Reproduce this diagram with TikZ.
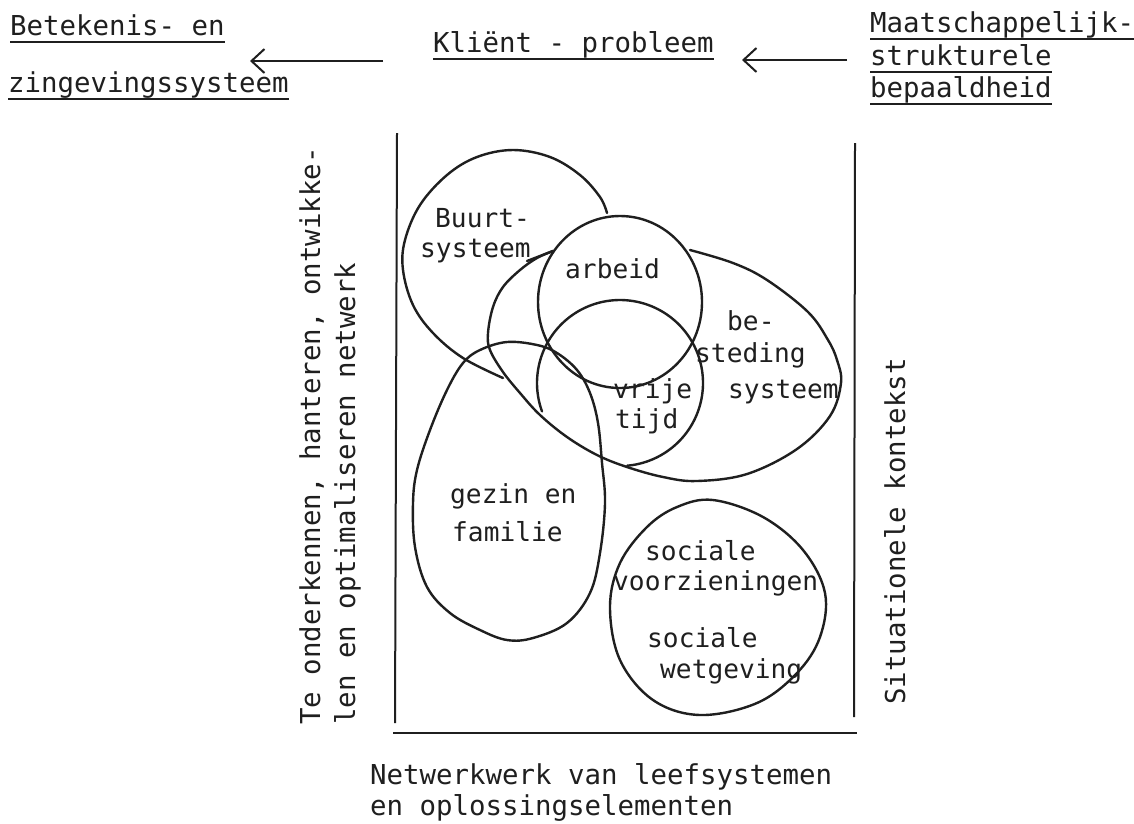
\documentclass[tikz,border=0pt]{standalone}
\usepackage{fontspec}
\newfontfamily\tw{DejaVu Sans Mono}
\usetikzlibrary{arrows.meta}
\newcommand\uln[1]{\setbox0=\hbox{#1}\rlap{\rule[-7.5pt]{\wd0}{2pt}}\box0}
\begin{document}
\begin{tikzpicture}[x=1pt,y=-1pt,
  ink/.style={draw=black!88, line width=2.4pt, line join=round, line cap=round},
  boxline/.style={draw=black!88, line width=2pt},
  hd/.style={inner sep=0pt, anchor=base west, font=\tw\fontsize{27.4pt}{30pt}\selectfont, text=black!88},
  lb/.style={inner sep=0pt, anchor=base west, font=\tw\fontsize{26.2pt}{29pt}\selectfont, text=black!88},
  arr/.style={draw=black!88, line width=2pt, -{Straight Barb[length=13pt,width=24pt,line width=2pt]}}]
\fill[white] (0,0) rectangle (1134,823);
\useasboundingbox (0,0) rectangle (1134,823);

% header texts
\node[hd] (bet1) at (10,35) {\uln{Betekenis- en}};
\node[hd] (bet2) at (8,92) {\uln{zingevingssysteem}};
\node[hd] (klient) at (433,52) {\uln{Kliënt - probleem}};
\node[hd] (maat1) at (870,32) {\uln{Maatschappelijk-}};
\node[hd] (maat2) at (870,65) {\uln{strukturele}};
\node[hd] (maat3) at (870,97) {\uln{bepaaldheid}};

% arrows
\coordinate (a1s) at (383,61);
\coordinate (a1e) at (250,61);
\coordinate (a2s) at (847,60);
\coordinate (a2e) at (742,60);
\draw[arr] (a1s) -- (a1e);
\draw[arr] (a2s) -- (a2e);

% frame lines
\draw[boxline] (397,133) -- (395,723);
\draw[boxline] (855,143) -- (854,717);
\draw[boxline] (393,733) -- (857,733);

% side and bottom labels
\node[hd, rotate=90] (left1) at (320,725) {Te onderkennen, hanteren, ontwikke-};
\node[hd, rotate=90] (left2) at (355,725) {len en optimaliseren netwerk};
\node[hd, rotate=90] (right1) at (905,705) {Situationele kontekst};
\node[hd] (bot1) at (370,784) {Netwerkwerk van leefsystemen};
\node[hd] (bot2) at (370,815) {en oplossingselementen};

% Buurtsysteem
\draw[ink] plot[smooth, tension=0.6] coordinates {(607,213) (600,197) (580,175) (550,157) (513,150) (477,157) (447,175) (420,205) (405,240) (403,270) (413,305) (433,333) (463,358) (503,378)};
% arbeid
\draw[ink] (620,302) ellipse [x radius=82pt, y radius=86pt];
% vrije tijd
\draw[ink] plot[domain=160:445, samples=80, smooth] ({620+83*cos(\x)},{383+83*sin(\x)});
% besteding
\draw[ink] (527,261) -- (553,251);
\draw[ink] plot[smooth, tension=0.6] coordinates {(553,251) (537,258) (520,270) (503,287) (493,307) (488,333) (490,350) (503,372) (520,393) (540,415) (567,437) (597,455) (627,467) (663,477) (697,481) (747,474) (797,449) (830,416) (841,383) (837,360) (828,340) (808,312) (767,280) (733,263) (690,250)};
% gezin en familie
\draw[ink] plot[smooth cycle, tension=0.6] coordinates {(413,503) (417,470) (430,430) (447,390) (463,363) (480,350) (507,342) (537,345) (557,353) (577,370) (590,393) (598,423) (602,463) (605,503) (600,553) (590,593) (567,623) (533,638) (507,640) (480,630) (450,613) (427,587) (415,547)};
% sociale
\draw[ink] plot[smooth cycle, tension=0.6] coordinates {(713,500) (763,517) (803,550) (825,593) (820,637) (797,673) (757,703) (700,715) (653,700) (620,660) (610,607) (620,563) (647,527) (677,507)};

% inner labels
\node[lb] (buurt1) at (435,227) {Buurt-};
\node[lb] (buurt2) at (420,257) {systeem};
\node[lb] (arbeid) at (565,278) {arbeid};
\node[lb] (best1) at (727,330) {be-};
\node[lb] (best2) at (695,362) {steding};
\node[lb] (best3) at (728,398) {systeem};
\node[lb] (vrije1) at (613,398) {vrije};
\node[lb] (vrije2) at (615,428) {tijd};
\node[lb] (gezin1) at (450,503) {gezin en};
\node[lb] (gezin2) at (452,541) {familie};
\node[lb] (soc1) at (645,560) {sociale};
\node[lb] (soc2) at (613,590) {voorzieningen};
\node[lb] (soc3) at (647,647) {sociale};
\node[lb] (soc4) at (660,678) {wetgeving};
\end{tikzpicture}
\end{document}
